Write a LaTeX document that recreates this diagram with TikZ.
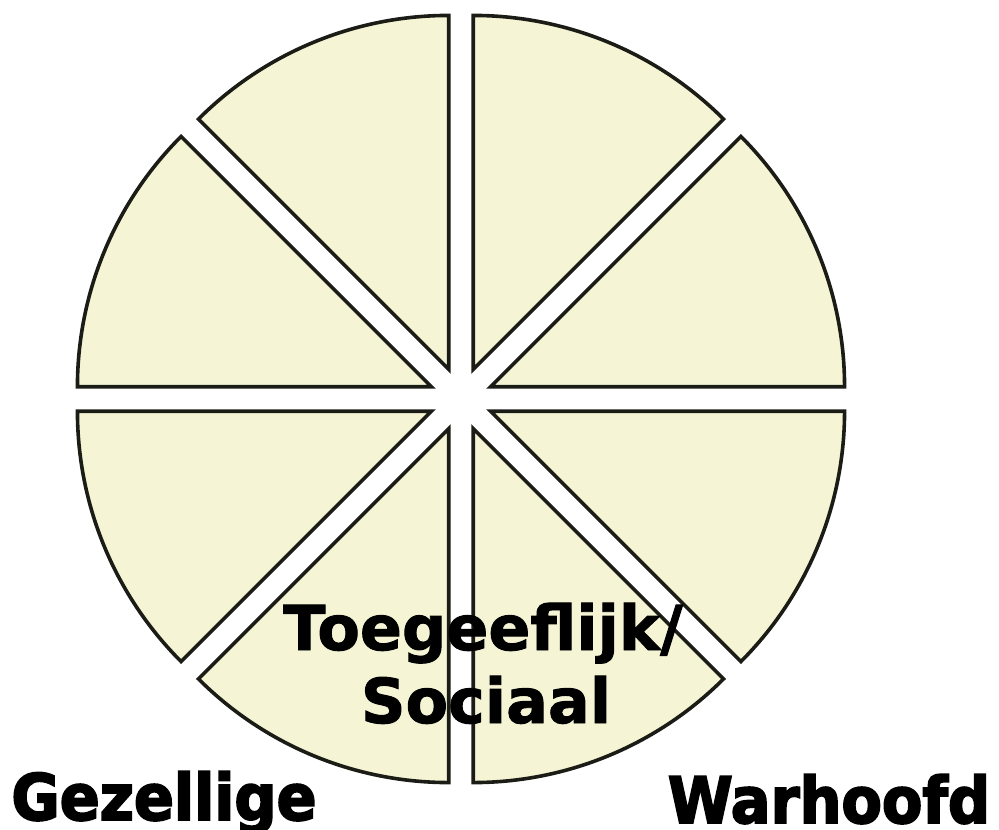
\documentclass[tikz,border=0pt]{standalone}
\usepackage{fontspec}
\setmainfont{DejaVu Sans}
\newfontfamily\lblfont[FakeBold=1.5]{DejaVu Sans Bold}
\newfontfamily\heavyfont[FakeBold=3,FakeStretch=0.92]{DejaVu Sans Bold}
\usetikzlibrary{calc}
\definecolor{piefill}{RGB}{245,245,213}
\definecolor{pieline}{RGB}{28,28,22}
\tikzset{
  slice/.style={fill=piefill, draw=pieline, line width=3.6pt, line join=miter},
  midlabel/.style={font=\lblfont\fontsize{62}{62}\selectfont, inner sep=0pt, anchor=base},
  cornerlabel/.style={font=\heavyfont\fontsize{64}{64}\selectfont, inner sep=0pt, anchor=base}
}
\begin{document}
\begin{tikzpicture}[x=1pt,y=-1pt]
\useasboundingbox (0,0) rectangle (999,830);
\coordinate (C) at (461,399);
\foreach \a in {0,45,...,315}{
  \pgfmathsetmacro{\m}{\a+22.5}
  \pgfmathsetmacro{\e}{\a+45}
  \path[slice] ($(C)+(\m:32)$) coordinate (tip\a) -- ++(\a:354) arc[start angle=\a, end angle=\e, radius=354] -- cycle;
}
\node[midlabel] (t1) at (483,650) {Toegeeflijk/};
\node[midlabel] (t2) at (486,723) {Sociaal};
\node[cornerlabel] (gez) at (164,820) {Gezellige};
\node[cornerlabel] (war) at (829,823) {Warhoofd};
\end{tikzpicture}
\end{document}
